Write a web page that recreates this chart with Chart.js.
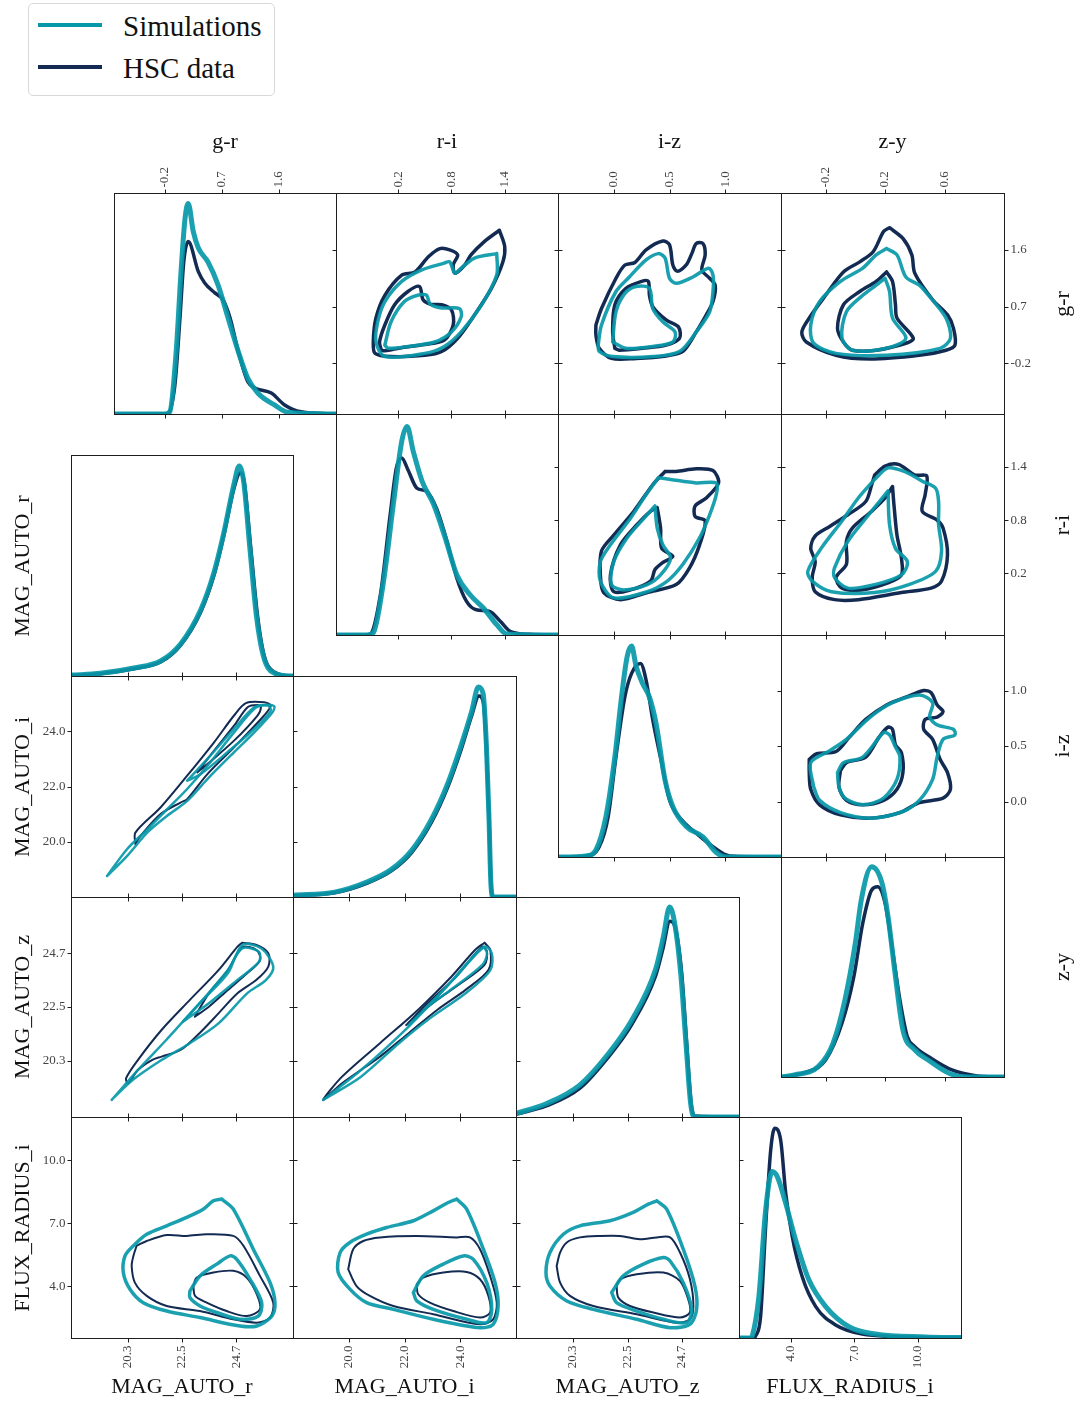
<!DOCTYPE html>
<html>
<head>
<meta charset="utf-8">
<script src="https://cdn.jsdelivr.net/npm/chart.js@4.4.1/dist/chart.umd.min.js"></script>
<style>
  body { margin: 0; background: #fff; }
  #fig { position: relative; width: 1077px; height: 1403px; overflow: hidden; font-family: "Liberation Serif", serif; color: #111; }
  .title { position: absolute; white-space: nowrap; transform-origin: center; }
</style>
</head>
<body>
<div id="fig">
  <div style="position:absolute;left:28px;top:3px;width:245px;height:91px;border:1px solid #d8d8d8;border-radius:5px;background:#fff;"></div>
  <div style="position:absolute;left:38px;top:23px;width:64px;height:4px;background:#0898a9;"></div>
  <div style="position:absolute;left:38px;top:65px;width:64px;height:4px;background:#132b52;"></div>
  <div style="position:absolute;left:123px;top:9px;font-size:29px;line-height:34px;">Simulations</div>
  <div style="position:absolute;left:123px;top:51px;font-size:29px;line-height:34px;">HSC data</div>
</div>
<script>
// ---- axes ----
const colorVars = ['g-r', 'r-i', 'i-z', 'z-y'];
const colorLims = [[-1.0, 2.5], [-0.5, 2.0], [-0.5, 1.5], [-0.5, 1.0]];
const colorTicks = [[-0.2, 0.7, 1.6], [0.2, 0.8, 1.4], [0.0, 0.5, 1.0], [-0.2, 0.2, 0.6]];
const propVars = ['MAG_AUTO_r', 'MAG_AUTO_i', 'MAG_AUTO_z', 'FLUX_RADIUS_i'];
const propLims = [[18, 27], [18, 26], [18, 27], [1.55, 12.05]];
const propTicks = [[20.3, 22.5, 24.7], [20.0, 22.0, 24.0], [20.3, 22.5, 24.7], [4.0, 7.0, 10.0]];

// ---- 1D densities (x, relative height) ----
const grKdeHsc = [[-1.0,0],[-0.25,0],[-0.15,0.003],[-0.04,0.131],[0.04,0.434],[0.10,0.689],[0.17,0.780],[0.33,0.644],[0.43,0.593],[0.59,0.548],[0.72,0.516],[0.83,0.434],[0.96,0.282],[1.11,0.146],[1.22,0.118],[1.48,0.095],[1.69,0.041],[1.95,0.010],[2.5,0]];
const grKdeSim = [[-1.0,0],[-0.2,0],[-0.12,0.01],[-0.02,0.282],[0.06,0.659],[0.12,0.885],[0.17,0.953],[0.25,0.825],[0.33,0.751],[0.48,0.689],[0.64,0.584],[0.80,0.433],[0.96,0.282],[1.11,0.161],[1.27,0.094],[1.53,0.041],[1.74,0.008],[2.5,0]];
const riKdeHsc = [[-0.5,0],[-0.2,0],[-0.12,0.003],[0.00,0.182],[0.11,0.544],[0.18,0.756],[0.24,0.801],[0.31,0.748],[0.41,0.665],[0.52,0.650],[0.63,0.575],[0.75,0.424],[0.86,0.258],[0.97,0.152],[1.08,0.114],[1.23,0.107],[1.35,0.062],[1.46,0.017],[1.68,0.003],[2.0,0]];
const riKdeSim = [[-0.5,0],[-0.15,0],[-0.08,0.01],[0.03,0.228],[0.15,0.605],[0.24,0.876],[0.30,0.944],[0.37,0.831],[0.47,0.695],[0.60,0.590],[0.73,0.439],[0.86,0.273],[1.01,0.182],[1.16,0.122],[1.31,0.047],[1.42,0.005],[2.0,0]];
const izKdeHsc = [[-0.5,0],[-0.25,0.005],[-0.13,0.046],[-0.05,0.182],[0.02,0.452],[0.10,0.722],[0.16,0.827],[0.24,0.872],[0.29,0.797],[0.35,0.617],[0.43,0.422],[0.50,0.257],[0.61,0.167],[0.74,0.107],[0.89,0.046],[1.04,0.005],[1.5,0]];
const izKdeSim = [[-0.5,0],[-0.25,0.005],[-0.16,0.032],[-0.07,0.182],[0.01,0.452],[0.07,0.722],[0.12,0.902],[0.16,0.950],[0.20,0.860],[0.26,0.780],[0.32,0.720],[0.38,0.600],[0.46,0.347],[0.53,0.227],[0.65,0.137],[0.80,0.091],[0.92,0.02],[1.01,0],[1.5,0]];
const zyKdeHsc = [[-0.5,0],[-0.32,0.024],[-0.20,0.077],[-0.09,0.244],[-0.01,0.456],[0.05,0.699],[0.11,0.85],[0.15,0.865],[0.20,0.79],[0.25,0.577],[0.30,0.35],[0.35,0.183],[0.40,0.138],[0.51,0.085],[0.65,0.032],[0.81,0.006],[1.0,0]];
const zyKdeSim = [[-0.5,0],[-0.41,0.01],[-0.25,0.047],[-0.15,0.153],[-0.07,0.35],[0.00,0.608],[0.04,0.805],[0.11,0.956],[0.18,0.88],[0.22,0.729],[0.27,0.456],[0.32,0.214],[0.40,0.123],[0.49,0.077],[0.63,0.017],[0.76,0],[1.0,0]];
const magRKdeHsc = [[18.0,0.003],[19.19,0.01],[20.55,0.033],[21.63,0.063],[22.44,0.139],[23.26,0.29],[23.80,0.457],[24.20,0.638],[24.61,0.85],[24.86,0.918],[25.02,0.88],[25.29,0.578],[25.56,0.275],[25.83,0.093],[26.24,0.018],[26.92,0],[27,0]];
const magRKdeSim = [[18.0,0.004],[19.19,0.012],[20.55,0.036],[21.63,0.068],[22.44,0.145],[23.26,0.30],[23.80,0.47],[24.20,0.65],[24.61,0.87],[24.82,0.95],[25.00,0.88],[25.25,0.58],[25.52,0.27],[25.80,0.09],[26.20,0.015],[26.9,0],[27,0]];
const magIKdeHsc = [[18.0,0.006],[19.49,0.019],[20.69,0.064],[21.53,0.118],[22.25,0.2],[22.96,0.336],[23.57,0.503],[24.04,0.67],[24.41,0.82],[24.67,0.91],[24.83,0.88],[24.94,0.67],[25.03,0.367],[25.10,0.064],[25.18,0],[26,0]];
const magIKdeSim = [[18.0,0.008],[19.49,0.022],[20.69,0.07],[21.53,0.125],[22.25,0.21],[22.96,0.35],[23.57,0.52],[24.04,0.69],[24.41,0.84],[24.65,0.95],[24.82,0.92],[24.94,0.68],[25.03,0.36],[25.10,0.06],[25.18,0],[26,0]];
const magZKdeHsc = [[18,0.012],[19.22,0.05],[20.57,0.13],[21.71,0.27],[22.67,0.42],[23.63,0.64],[23.92,0.76],[24.21,0.89],[24.45,0.85],[24.69,0.65],[24.88,0.35],[25.07,0.06],[25.2,0.005],[27,0]];
const magZKdeSim = [[18,0.016],[19.22,0.06],[20.57,0.145],[21.71,0.285],[22.67,0.44],[23.63,0.67],[23.95,0.82],[24.2,0.955],[24.42,0.87],[24.65,0.65],[24.85,0.35],[25.05,0.06],[25.2,0],[27,0]];
const fluxKdeHsc = [[1.55,0],[2.2,0],[2.34,0.01],[2.57,0.096],[2.81,0.504],[3.05,0.851],[3.24,0.949],[3.52,0.896],[3.76,0.655],[4.07,0.458],[4.54,0.277],[5.18,0.142],[6.12,0.059],[7.38,0.018],[9.59,0.005],[12.05,0.002]];
const fluxKdeSim = [[1.55,0],[2.1,0],[2.18,0.01],[2.49,0.187],[2.81,0.579],[3.12,0.753],[3.36,0.73],[3.76,0.609],[4.23,0.443],[4.86,0.262],[5.65,0.142],[6.75,0.051],[8.01,0.018],[10.38,0.005],[12.05,0.002]];

// ---- contours, upper triangle (x var, y var) ----
const riGrHscOuter = [[1.34,1.91],[1.40,1.65],[1.38,1.41],[1.25,0.99],[1.06,0.57],[0.87,0.20],[0.69,-0.01],[0.50,-0.07],[0.12,-0.09],[-0.06,-0.04],[-0.08,0.14],[-0.05,0.52],[0.05,0.88],[0.24,1.20],[0.39,1.25],[0.54,1.49],[0.67,1.62],[0.78,1.60],[0.87,1.52],[0.82,1.36],[0.84,1.23],[0.95,1.36],[1.02,1.52],[1.17,1.73]];
const riGrHscInner = [[0.01,0.01],[-0.01,0.14],[0.05,0.41],[0.16,0.73],[0.31,0.94],[0.44,1.02],[0.48,0.81],[0.56,0.74],[0.69,0.73],[0.80,0.65],[0.82,0.41],[0.72,0.17],[0.50,0.10],[0.24,0.05],[0.05,0.00]];
const riGrSimOuter = [[1.31,1.54],[1.06,1.47],[0.91,1.31],[0.84,1.23],[0.78,1.41],[0.72,1.39],[0.46,1.28],[0.24,1.10],[0.05,0.78],[-0.03,0.46],[-0.05,0.14],[0.05,-0.09],[0.50,-0.04],[0.72,0.07],[0.91,0.30],[1.14,0.73],[1.31,1.20]];
const riGrSimInner = [[0.05,0.09],[0.12,0.46],[0.27,0.78],[0.42,0.88],[0.52,0.88],[0.56,0.74],[0.69,0.68],[0.89,0.67],[0.91,0.54],[0.80,0.30],[0.61,0.14],[0.31,0.07],[0.09,0.04]];

const izGrHscOuter = [[-0.16,0.41],[-0.11,0.67],[0.02,1.15],[0.10,1.36],[0.19,1.40],[0.29,1.60],[0.44,1.74],[0.50,1.68],[0.53,1.36],[0.57,1.26],[0.65,1.36],[0.70,1.54],[0.74,1.70],[0.80,1.70],[0.82,1.52],[0.79,1.28],[0.86,1.15],[0.91,1.04],[0.89,0.78],[0.83,0.57],[0.74,0.30],[0.62,-0.01],[0.47,-0.08],[0.20,-0.12],[-0.02,-0.12],[-0.13,0.04],[-0.16,0.25]];
const izGrHscInner = [[0.01,0.04],[-0.01,0.30],[0.01,0.73],[0.11,0.99],[0.25,1.10],[0.31,1.10],[0.32,0.88],[0.35,0.70],[0.47,0.49],[0.58,0.38],[0.59,0.20],[0.47,0.09],[0.26,0.04],[0.05,0.01]];
const izGrSimOuter = [[-0.14,0.09],[-0.11,0.41],[0.02,0.94],[0.14,1.17],[0.29,1.44],[0.40,1.54],[0.46,1.47],[0.50,1.15],[0.56,1.07],[0.71,1.17],[0.85,1.31],[0.89,1.20],[0.89,0.94],[0.86,0.62],[0.74,0.30],[0.59,-0.01],[0.35,-0.09],[-0.01,-0.09],[-0.13,-0.01]];
const izGrSimInner = [[-0.01,0.14],[0.02,0.62],[0.10,0.91],[0.20,1.02],[0.32,0.99],[0.35,0.67],[0.44,0.46],[0.55,0.30],[0.53,0.14],[0.35,0.07],[0.11,0.04]];

const zyGrHscOuter = [[0.23,1.95],[0.32,1.78],[0.38,1.52],[0.40,1.23],[0.52,0.81],[0.62,0.57],[0.66,0.36],[0.67,0.09],[0.61,0.01],[0.43,-0.07],[0.10,-0.13],[-0.13,-0.07],[-0.33,0.14],[-0.36,0.30],[-0.31,0.52],[-0.20,0.88],[-0.08,1.25],[0.03,1.41],[0.12,1.57],[0.19,1.89]];
const zyGrHscInner = [[0.21,1.25],[0.25,1.10],[0.27,0.73],[0.28,0.52],[0.39,0.20],[0.34,0.12],[0.14,0.01],[-0.02,0.01],[-0.08,0.14],[-0.12,0.36],[-0.08,0.73],[0.03,0.94],[0.14,1.10]];
const zyGrSimOuter = [[0.21,1.62],[0.28,1.52],[0.34,1.17],[0.43,1.04],[0.51,0.83],[0.61,0.52],[0.64,0.20],[0.57,0.04],[0.21,-0.07],[-0.13,-0.04],[-0.28,0.12],[-0.30,0.41],[-0.24,0.78],[-0.10,1.10],[0.05,1.31],[0.14,1.52]];
const zyGrSimInner = [[0.20,1.15],[0.23,0.94],[0.25,0.52],[0.34,0.20],[0.21,0.04],[-0.02,0.01],[-0.09,0.20],[-0.06,0.62],[0.05,0.88],[0.14,1.04]];

const izRiHscOuter = [[0.46,1.35],[0.56,1.35],[0.74,1.38],[0.89,1.36],[0.94,1.22],[0.83,1.05],[0.73,0.96],[0.73,0.84],[0.82,0.79],[0.77,0.52],[0.68,0.26],[0.56,0.07],[0.30,-0.02],[0.06,-0.10],[-0.09,-0.02],[-0.12,0.18],[-0.11,0.45],[0.00,0.63],[0.18,0.90],[0.35,1.20]];
const izRiHscInner = [[0.39,0.94],[0.42,0.71],[0.43,0.48],[0.53,0.39],[0.44,0.32],[0.37,0.24],[0.33,0.11],[0.15,0.01],[0.00,-0.01],[-0.03,0.18],[0.06,0.52],[0.21,0.75],[0.33,0.90]];
const izRiSimOuter = [[0.40,1.28],[0.51,1.26],[0.74,1.22],[0.92,1.22],[0.92,1.09],[0.86,0.86],[0.77,0.60],[0.62,0.30],[0.48,0.11],[0.30,-0.01],[0.00,-0.08],[-0.12,0.11],[-0.12,0.33],[-0.03,0.52],[0.15,0.82],[0.27,1.05]];
const izRiSimInner = [[0.37,0.96],[0.39,0.71],[0.44,0.52],[0.51,0.37],[0.42,0.18],[0.30,0.07],[0.09,0.01],[-0.02,0.07],[0.00,0.33],[0.12,0.60],[0.27,0.82]];

const zyRiHscOuter = [[0.13,1.31],[0.20,1.41],[0.29,1.43],[0.40,1.31],[0.48,1.30],[0.47,1.09],[0.45,0.90],[0.55,0.80],[0.59,0.71],[0.62,0.41],[0.58,0.11],[0.51,0.03],[0.31,-0.02],[0.02,-0.10],[-0.14,-0.10],[-0.27,-0.01],[-0.29,0.15],[-0.27,0.33],[-0.30,0.48],[-0.27,0.62],[-0.17,0.73],[-0.05,0.86],[0.07,1.01],[0.11,1.20]];
const zyRiHscInner = [[0.25,1.18],[0.26,0.97],[0.28,0.63],[0.31,0.37],[0.31,0.18],[0.22,0.09],[0.04,0.01],[-0.09,0.03],[-0.13,0.15],[-0.06,0.30],[-0.06,0.56],[-0.02,0.71],[0.11,0.90],[0.20,1.05]];
const zyRiSimOuter = [[0.13,1.26],[0.22,1.39],[0.33,1.35],[0.45,1.24],[0.54,1.16],[0.56,1.01],[0.56,0.75],[0.58,0.45],[0.54,0.22],[0.36,0.07],[0.13,-0.02],[-0.16,-0.01],[-0.29,0.11],[-0.32,0.22],[-0.23,0.48],[-0.09,0.79],[0.02,1.05]];
const zyRiSimInner = [[0.22,1.13],[0.23,0.75],[0.27,0.48],[0.35,0.33],[0.31,0.18],[0.13,0.07],[-0.05,0.03],[-0.14,0.15],[-0.14,0.26],[-0.05,0.56],[0.09,0.86]];

const zyIzHscOuter = [[-0.31,0.38],[-0.26,0.43],[-0.13,0.45],[-0.04,0.58],[0.07,0.74],[0.21,0.87],[0.34,0.94],[0.46,1.00],[0.51,0.98],[0.55,0.87],[0.59,0.81],[0.55,0.76],[0.47,0.74],[0.46,0.65],[0.52,0.56],[0.57,0.38],[0.62,0.26],[0.64,0.11],[0.59,0.03],[0.43,-0.01],[0.30,-0.10],[0.10,-0.15],[-0.10,-0.12],[-0.24,-0.03],[-0.30,0.11],[-0.31,0.26]];
const zyIzHscInner = [[-0.10,0.28],[-0.06,0.35],[0.07,0.40],[0.16,0.58],[0.22,0.67],[0.25,0.65],[0.27,0.51],[0.31,0.44],[0.32,0.26],[0.28,0.11],[0.19,0.01],[0.05,-0.03],[-0.06,0.01],[-0.11,0.13]];
const zyIzSimOuter = [[-0.28,0.13],[-0.30,0.35],[-0.17,0.46],[-0.06,0.56],[0.10,0.76],[0.25,0.89],[0.43,0.96],[0.52,0.89],[0.50,0.76],[0.55,0.69],[0.66,0.65],[0.67,0.60],[0.59,0.56],[0.55,0.40],[0.52,0.20],[0.43,0.01],[0.32,-0.09],[0.10,-0.15],[-0.10,-0.10],[-0.24,0.01]];
const zyIzSimInner = [[-0.12,0.26],[-0.08,0.35],[0.05,0.40],[0.19,0.62],[0.23,0.60],[0.27,0.49],[0.30,0.40],[0.28,0.20],[0.19,0.03],[0.05,-0.03],[-0.07,0.03],[-0.11,0.13]];

// ---- contours, lower triangle ----
const rIHscOuter = [[20.61,19.91],[20.61,20.33],[21.63,21.24],[22.71,22.39],[23.80,23.60],[24.61,24.57],[25.09,25.02],[25.83,25.05],[26.10,24.93],[25.83,24.57],[24.61,23.42],[23.53,22.45],[22.71,21.54],[22.44,21.42],[21.63,21.00],[20.82,20.21]];
const rIHscInner = [[23.12,22.51],[23.80,23.30],[24.61,24.20],[25.16,24.87],[25.56,24.95],[25.70,24.87],[25.56,24.57],[24.61,23.66],[23.53,22.81]];
const rISimOuter = [[19.46,18.76],[20.27,19.73],[21.09,20.45],[21.90,21.18],[22.71,21.91],[23.53,22.75],[24.61,23.96],[25.43,24.81],[25.83,24.95],[26.24,24.91],[26.17,24.69],[25.43,23.96],[24.61,23.24],[23.53,22.27],[22.71,21.48],[21.90,20.94],[21.09,20.33],[20.27,19.48]];
const rISimInner = [[22.71,22.21],[23.53,23.00],[24.61,24.09],[25.43,24.87],[25.97,24.93],[26.10,24.75],[25.43,24.09],[24.34,23.24],[23.26,22.45]];

const rZHscOuter = [[24.94,25.13],[25.52,25.04],[26.00,24.70],[26.00,24.15],[25.52,23.61],[24.75,23.06],[23.98,22.24],[23.21,21.43],[22.44,20.74],[21.67,20.47],[21.28,20.33],[20.71,19.92],[20.32,19.38],[20.23,19.58],[20.71,20.33],[21.67,21.56],[22.82,22.79],[23.98,24.01],[24.75,24.97]];
const rZHscInner = [[23.02,22.10],[23.59,23.06],[24.36,24.01],[24.94,24.94],[25.52,24.83],[25.67,24.42],[25.14,23.88],[24.36,23.20],[23.59,22.51]];
const rZSimOuter = [[19.65,18.70],[20.71,19.92],[21.86,21.15],[23.21,22.65],[24.36,23.88],[24.94,25.04],[25.71,24.90],[26.20,24.15],[25.91,23.61],[25.14,23.06],[23.98,21.83],[22.82,21.02],[21.67,20.33],[20.51,19.52]];
const rZSimInner = [[22.54,21.90],[23.21,22.65],[24.36,24.01],[24.94,24.90],[25.62,24.76],[25.62,24.35],[24.75,23.61],[23.59,22.65]];

const iZHscOuter = [[24.87,25.13],[25.08,24.83],[25.01,24.01],[24.19,23.20],[23.17,22.38],[22.15,21.43],[21.12,20.47],[19.76,19.38],[19.08,18.70],[19.76,19.65],[21.12,21.02],[22.48,22.38],[23.68,23.74],[24.53,24.83]];
const iZHscInner = [[22.06,21.76],[22.83,22.65],[23.85,23.74],[24.79,24.97],[24.96,24.76],[24.87,24.22],[24.02,23.47],[23.00,22.65]];
const iZSimOuter = [[19.08,18.70],[20.44,19.92],[22.15,21.70],[23.85,23.74],[24.87,24.97],[25.13,24.70],[25.08,24.01],[24.19,23.06],[22.83,21.97],[21.80,21.02],[20.44,19.65]];
const iZSimInner = [[22.15,21.76],[23.40,23.20],[24.79,24.94],[24.96,24.70],[24.79,24.22],[23.60,23.15],[22.83,22.51]];

const rFluxHscOuter = [[20.66,5.93],[21.07,6.16],[21.88,6.44],[22.69,6.40],[23.50,6.48],[24.58,6.40],[24.99,5.93],[25.66,4.50],[26.20,3.23],[26.07,2.52],[25.53,2.28],[24.58,2.44],[23.23,2.83],[21.88,3.07],[21.07,3.55],[20.59,4.18],[20.46,4.97],[20.53,5.45]];
const rFluxHscInner = [[22.96,4.02],[23.10,4.42],[23.77,4.66],[24.58,4.74],[25.12,4.42],[25.53,3.63],[25.66,2.91],[25.12,2.59],[24.31,2.83],[23.50,3.23],[23.03,3.55]];
const rFluxSimOuter = [[24.11,8.15],[24.58,7.67],[25.39,5.77],[26.07,4.18],[26.27,3.23],[26.14,2.59],[25.53,2.12],[24.85,2.12],[23.23,2.52],[21.88,2.83],[20.93,3.23],[20.39,3.87],[20.12,4.66],[20.19,5.45],[20.53,5.93],[21.07,6.48],[21.88,6.88],[22.69,7.28],[23.36,7.67],[23.77,8.07]];
const rFluxSimInner = [[22.82,3.78],[23.23,4.50],[23.91,5.06],[24.45,5.45],[24.72,5.29],[25.26,4.34],[25.73,3.23],[25.59,2.59],[24.85,2.44],[23.91,2.76],[23.23,3.07],[22.82,3.47]];

const iFluxHscOuter = [[19.98,4.82],[20.16,5.77],[20.52,6.16],[21.12,6.33],[22.44,6.40],[23.87,6.33],[24.35,6.33],[24.71,5.77],[25.07,4.50],[25.31,3.23],[25.18,2.44],[24.71,2.20],[23.03,2.68],[21.60,3.07],[20.76,3.55],[20.28,4.02]];
const iFluxHscInner = [[22.44,4.10],[22.67,4.42],[23.39,4.66],[24.23,4.69],[24.71,4.34],[25.01,3.55],[25.07,2.76],[24.71,2.52],[23.75,2.83],[22.91,3.23],[22.49,3.63]];
const iFluxSimOuter = [[23.87,8.15],[24.23,7.67],[24.83,5.77],[25.25,4.18],[25.36,3.07],[25.18,2.20],[24.71,2.04],[23.03,2.44],[21.60,2.91],[20.64,3.23],[20.04,3.87],[19.62,4.66],[19.69,5.61],[20.04,6.09],[20.64,6.48],[21.36,6.80],[22.32,7.12],[23.03,7.59],[23.57,7.99]];
const iFluxSimInner = [[22.32,3.71],[22.67,4.50],[23.39,5.06],[24.11,5.45],[24.47,5.29],[24.95,4.18],[25.13,2.91],[24.95,2.28],[24.23,2.44],[23.03,2.91],[22.44,3.31]];

const zFluxHscOuter = [[19.64,4.97],[19.78,5.61],[20.05,6.09],[20.58,6.33],[21.39,6.40],[22.20,6.40],[23.00,6.24],[23.68,6.33],[24.22,6.33],[24.62,5.61],[25.02,4.34],[25.16,3.07],[25.02,2.44],[24.49,2.28],[22.87,2.68],[21.12,3.07],[20.18,3.55],[19.78,4.18]];
const zFluxHscInner = [[22.06,4.02],[22.20,4.34],[22.87,4.58],[23.95,4.66],[24.62,4.26],[24.95,3.39],[25.02,2.76],[24.62,2.52],[23.54,2.76],[22.60,3.07],[22.13,3.47]];
const zFluxSimOuter = [[23.68,8.07],[24.08,7.67],[24.75,5.77],[25.22,4.02],[25.29,2.91],[25.02,2.20],[24.22,2.04],[22.87,2.44],[21.12,2.91],[20.05,3.31],[19.37,4.02],[19.21,4.66],[19.37,5.61],[19.91,6.48],[20.58,6.88],[21.79,7.12],[22.73,7.52],[23.34,7.91]];
const zFluxSimInner = [[21.86,3.71],[22.33,4.50],[23.14,5.06],[23.95,5.37],[24.22,5.21],[24.75,4.18],[25.09,2.91],[24.89,2.28],[23.95,2.44],[22.87,2.83],[22.06,3.23]];

// ---- layout ----
const SIM = 'rgba(8,152,169,0.92)';
const HSC = '#132b52';
const upperX = [114, 336, 558, 781, 1004];
const upperY = [193, 414, 635, 857, 1077];
const lowerX = [71, 293, 516, 739, 961];
const lowerY = [455, 676, 897, 1117, 1338];
const M = 40;

const upperKde = [[grKdeSim, grKdeHsc], [riKdeSim, riKdeHsc], [izKdeSim, izKdeHsc], [zyKdeSim, zyKdeHsc]];
const lowerKde = [[magRKdeSim, magRKdeHsc], [magIKdeSim, magIKdeHsc], [magZKdeSim, magZKdeHsc], [fluxKdeSim, fluxKdeHsc]];
const upperSets = {
  '0-1': [riGrSimOuter, riGrSimInner, riGrHscOuter, riGrHscInner],
  '0-2': [izGrSimOuter, izGrSimInner, izGrHscOuter, izGrHscInner],
  '0-3': [zyGrSimOuter, zyGrSimInner, zyGrHscOuter, zyGrHscInner],
  '1-2': [izRiSimOuter, izRiSimInner, izRiHscOuter, izRiHscInner],
  '1-3': [zyRiSimOuter, zyRiSimInner, zyRiHscOuter, zyRiHscInner],
  '2-3': [zyIzSimOuter, zyIzSimInner, zyIzHscOuter, zyIzHscInner],
};
const lowerSets = {
  '1-0': [rISimOuter, rISimInner, rIHscOuter, rIHscInner],
  '2-0': [rZSimOuter, rZSimInner, rZHscOuter, rZHscInner],
  '2-1': [iZSimOuter, iZSimInner, iZHscOuter, iZHscInner],
  '3-0': [rFluxSimOuter, rFluxSimInner, rFluxHscOuter, rFluxHscInner],
  '3-1': [iFluxSimOuter, iFluxSimInner, iFluxHscOuter, iFluxHscInner],
  '3-2': [zFluxSimOuter, zFluxSimInner, zFluxHscOuter, zFluxHscInner],
};

function curve(pts, color, width, closed) {
  const p = closed ? pts.concat([pts[0]]) : pts;
  return {
    data: p.map(([x, y]) => ({ x, y })),
    showLine: true,
    borderColor: color,
    borderWidth: width,
    pointRadius: 0,
    fill: false,
    tension: closed ? 0.3 : 0,
    cubicInterpolationMode: closed ? 'default' : 'monotone',
    borderJoinStyle: 'round',
    borderCapStyle: 'round',
  };
}

function framePlugin(deco) {
  return {
    id: 'frame',
    afterDatasetsDraw(chart) {
      const { ctx, chartArea: a } = chart;
      const sx = chart.scales.x, sy = chart.scales.y;
      const L = Math.round(a.left) + 0.5, R = Math.round(a.right) + 0.5;
      const T = Math.round(a.top) + 0.5, B = Math.round(a.bottom) + 0.5;
      ctx.save();
      ctx.strokeStyle = '#1e1e1e';
      ctx.lineWidth = 1;
      ctx.strokeRect(L, T, R - L, B - T);
      ctx.beginPath();
      deco.xTicks.forEach(v => {
        const p = Math.round(sx.getPixelForValue(v)) + 0.5;
        if (deco.tickTop) { ctx.moveTo(p, T); ctx.lineTo(p, T - 4); }
        ctx.moveTo(p, B); ctx.lineTo(p, B + 4);
      });
      deco.yTicks.forEach(v => {
        const p = Math.round(sy.getPixelForValue(v)) + 0.5;
        ctx.moveTo(L, p); ctx.lineTo(L - 4, p);
        ctx.moveTo(R, p); ctx.lineTo(R + 4, p);
      });
      ctx.stroke();

      ctx.fillStyle = '#444';
      ctx.font = '13px "Liberation Serif", serif';
      ctx.textBaseline = 'middle';
      deco.xTicks.forEach(v => {
        const p = sx.getPixelForValue(v);
        if (deco.labelTop) {
          ctx.save(); ctx.translate(p, T - 6); ctx.rotate(-Math.PI / 2);
          ctx.textAlign = 'left'; ctx.fillText(v.toFixed(1), 0, 0); ctx.restore();
        }
        if (deco.labelBottom) {
          ctx.save(); ctx.translate(p, B + 7); ctx.rotate(-Math.PI / 2);
          ctx.textAlign = 'right'; ctx.fillText(v.toFixed(1), 0, 0); ctx.restore();
        }
      });
      deco.yTicks.forEach(v => {
        const p = sy.getPixelForValue(v);
        if (deco.labelRight) { ctx.textAlign = 'left'; ctx.fillText(v.toFixed(1), R + 6, p); }
        if (deco.labelLeft) { ctx.textAlign = 'right'; ctx.fillText(v.toFixed(1), L - 6, p); }
      });
      ctx.restore();
    }
  };
}

function addPanel(x0, x1, y0, y1, xr, yr, datasets, deco) {
  const cv = document.createElement('canvas');
  cv.width = x1 - x0 + 2 * M;
  cv.height = y1 - y0 + 2 * M;
  cv.style.position = 'absolute';
  cv.style.left = (x0 - M) + 'px';
  cv.style.top = (y0 - M) + 'px';
  document.getElementById('fig').appendChild(cv);
  new Chart(cv, {
    type: 'scatter',
    data: { datasets },
    options: {
      responsive: false,
      animation: false,
      devicePixelRatio: 1,
      events: [],
      layout: { padding: M },
      plugins: { legend: { display: false }, tooltip: { enabled: false } },
      scales: {
        x: { type: 'linear', min: xr[0], max: xr[1], display: false },
        y: { type: 'linear', min: yr[0], max: yr[1], display: false },
      },
    },
    plugins: [framePlugin(deco)],
  });
}

function contourSets(list, simW, hscW) {
  return [
    curve(list[0], SIM, simW, true), curve(list[1], SIM, simW, true),
    curve(list[2], HSC, hscW, true), curve(list[3], HSC, hscW, true),
  ];
}

// upper triangle: colours
for (let r = 0; r < 4; r++) {
  for (let c = r; c < 4; c++) {
    const diag = r === c;
    const sets = diag
      ? [curve(upperKde[c][0], SIM, 5, false), curve(upperKde[c][1], HSC, 3.5, false)]
      : contourSets(upperSets[r + '-' + c], 3.5, 3.5);
    addPanel(upperX[c], upperX[c + 1], upperY[r], upperY[r + 1],
      colorLims[c], diag ? [0, 1] : colorLims[r], sets, {
        xTicks: colorTicks[c], yTicks: diag ? [] : colorTicks[r],
        tickTop: true, labelTop: r === 0, labelRight: c === 3 && !diag,
      });
  }
}

// lower triangle: magnitudes and size
for (let r = 0; r < 4; r++) {
  for (let c = 0; c <= r; c++) {
    const diag = r === c;
    let sets;
    if (diag) sets = [curve(lowerKde[c][0], SIM, 5, false), curve(lowerKde[c][1], HSC, 3.5, false)];
    else if (r === 3) sets = contourSets(lowerSets[r + '-' + c], 3.5, 2);
    else sets = contourSets(lowerSets[r + '-' + c], 2.5, 2);
    addPanel(lowerX[c], lowerX[c + 1], lowerY[r], lowerY[r + 1],
      propLims[c], diag ? [0, 1] : propLims[r], sets, {
        xTicks: propTicks[c], yTicks: diag ? [] : propTicks[r],
        tickTop: !diag, labelBottom: r === 3, labelLeft: c === 0 && !diag,
      });
  }
}

// axis titles
function title(text, cx, cy, size, rotate) {
  const d = document.createElement('div');
  d.className = 'title';
  d.textContent = text;
  d.style.fontSize = size + 'px';
  d.style.left = cx + 'px';
  d.style.top = cy + 'px';
  d.style.transform = 'translate(-50%, -50%)' + (rotate ? ' rotate(-90deg)' : '');
  document.getElementById('fig').appendChild(d);
}
colorVars.forEach((v, i) => {
  title(v, (upperX[i] + upperX[i + 1]) / 2, 141, 22, false);
  title(v, 1062, (upperY[i] + upperY[i + 1]) / 2, 22, true);
});
propVars.forEach((v, i) => {
  title(v, 22, (lowerY[i] + lowerY[i + 1]) / 2, 22, true);
  title(v, (lowerX[i] + lowerX[i + 1]) / 2, 1386, 22, false);
});
</script>
</body>
</html>
